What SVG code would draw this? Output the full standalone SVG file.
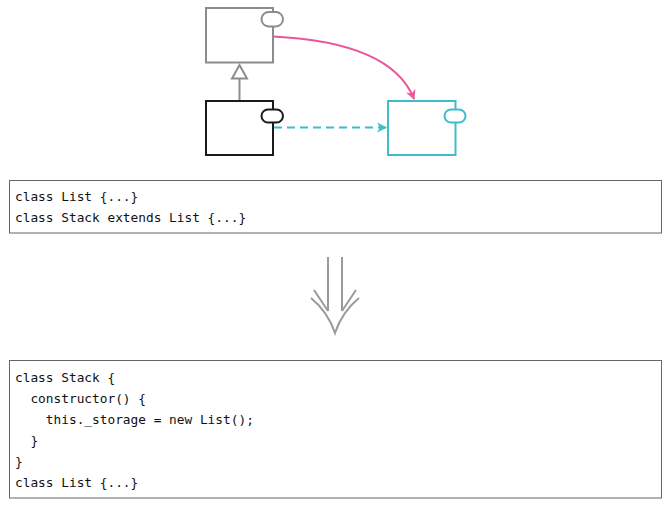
<svg xmlns="http://www.w3.org/2000/svg" width="671" height="508" viewBox="0 0 671 508" xml:space="preserve">
<defs>
<style>
.box{fill:#fff;stroke-width:2}
.gray{stroke:#8c8c8c}
.black{stroke:#1a1a1a}
.cyan{stroke:#3dbcc9}
.code{fill:#fff;stroke:#666;stroke-width:1}
.txt{font-family:"DejaVu Sans Mono","Liberation Mono",monospace;font-size:12.8px;fill:#111;white-space:pre}
.dbl{fill:none;stroke:#9a9a9a;stroke-width:2}
</style>
<marker id="pinkhead" viewBox="0 0 10 10" refX="9" refY="5" markerWidth="10" markerHeight="10" markerUnits="userSpaceOnUse" orient="auto">
<path d="M0,0 L10,5 L0,10 L3,5 Z" fill="#e8579a"/>
</marker>
<marker id="cyanhead" viewBox="0 0 10 10" refX="9" refY="5" markerWidth="10" markerHeight="10" markerUnits="userSpaceOnUse" orient="auto">
<path d="M0,0 L10,5 L0,10 L3,5 Z" fill="#3dbcc9"/>
</marker>
</defs>
<rect x="0" y="0" width="671" height="508" fill="#fff"/>

<g id="connectors">
<path d="M273,36.5 C345,40 398,58 414,99" fill="none" stroke="#e8579a" stroke-width="2" marker-end="url(#pinkhead)"/>
<line x1="274" y1="127.5" x2="386" y2="127.5" stroke="#3dbcc9" stroke-width="2" stroke-dasharray="8,5" marker-end="url(#cyanhead)"/>
<line x1="239.5" y1="79" x2="239.5" y2="101" stroke="#8c8c8c" stroke-width="2"/>
<path d="M239.5,65 L247,78.5 L232,78.5 Z" fill="#fff" stroke="#8c8c8c" stroke-width="2"/>
</g>

<g id="node-list">
<rect class="box gray" x="206" y="8" width="67" height="54.5"/>
<rect class="box gray" x="261.5" y="12" width="21.5" height="14.5" rx="7.25"/>
</g>

<g id="node-stack">
<rect class="box black" x="206" y="101" width="67" height="54"/>
<rect class="box black" x="261.5" y="109.5" width="21.5" height="13" rx="6.5"/>
</g>

<g id="node-target">
<rect class="box cyan" x="388" y="101" width="67.5" height="54"/>
<rect class="box cyan" x="444.5" y="109.5" width="21" height="13" rx="6.5"/>
</g>

<g id="code-before">
<rect class="code" x="9.5" y="180.5" width="652" height="52.5"/>
<text class="txt" x="15" y="201">class List {...}</text>
<text class="txt" x="15" y="222">class Stack extends List {...}</text>
</g>

<g id="transform-arrow">
<line class="dbl" x1="328" y1="257" x2="328" y2="311"/>
<line class="dbl" x1="342" y1="257" x2="342" y2="311"/>
<path class="dbl" d="M314,290 L328,311 M342,311 L356,290"/>
<path class="dbl" d="M311,298 Q328,312 335,333 Q342,312 359,298"/>
</g>

<g id="code-after">
<rect class="code" x="9.5" y="360.5" width="652" height="137.5"/>
<text class="txt" x="15" y="382">class Stack {</text>
<text class="txt" x="15" y="403">  constructor() {</text>
<text class="txt" x="15" y="424">    this._storage = new List();</text>
<text class="txt" x="15" y="445">  }</text>
<text class="txt" x="15" y="466">}</text>
<text class="txt" x="15" y="487">class List {...}</text>
</g>
</svg>
